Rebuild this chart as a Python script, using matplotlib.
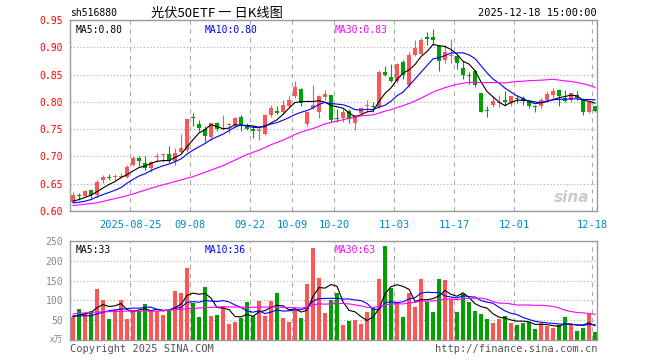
import matplotlib
matplotlib.use('Agg')
import matplotlib.pyplot as plt
import numpy as np
import pandas as pd

# trading days 2025-08-11 .. 2025-12-18 (national day holiday removed)
days = pd.bdate_range('2025-08-11', '2025-12-18')
days = days[(days < '2025-10-01') | (days > '2025-10-08')]

opens = [0.617, 0.630, 0.628, 0.638, 0.629, 0.656, 0.663, 0.662, 0.663, 0.663,
         0.685, 0.698, 0.688, 0.678, 0.699, 0.703, 0.705, 0.691, 0.709, 0.712,
         0.773, 0.759, 0.750, 0.735, 0.761, 0.750, 0.757, 0.755, 0.773, 0.756,
         0.751, 0.746, 0.741, 0.775, 0.784, 0.781, 0.793, 0.811, 0.824, 0.760,
         0.789, 0.781, 0.808, 0.813, 0.771, 0.770, 0.784, 0.762, 0.779, 0.793,
         0.791, 0.790, 0.855, 0.845, 0.838, 0.873, 0.830, 0.885, 0.888, 0.919,
         0.919, 0.902, 0.876, 0.884, 0.884, 0.862, 0.849, 0.856, 0.816, 0.785,
         0.795, 0.798, 0.804, 0.797, 0.806, 0.807, 0.801, 0.793, 0.792, 0.803,
         0.812, 0.822, 0.807, 0.803, 0.813, 0.805, 0.782, 0.792]
closes = [0.629, 0.628, 0.637, 0.629, 0.654, 0.663, 0.660, 0.664, 0.665, 0.681,
          0.697, 0.691, 0.678, 0.689, 0.700, 0.704, 0.691, 0.707, 0.716, 0.769,
          0.770, 0.753, 0.738, 0.761, 0.751, 0.751, 0.758, 0.770, 0.755, 0.750,
          0.746, 0.747, 0.775, 0.789, 0.779, 0.795, 0.804, 0.827, 0.797, 0.781,
          0.795, 0.810, 0.814, 0.767, 0.769, 0.782, 0.768, 0.775, 0.789, 0.794,
          0.790, 0.855, 0.850, 0.839, 0.870, 0.849, 0.885, 0.898, 0.914, 0.915,
          0.914, 0.874, 0.891, 0.885, 0.872, 0.850, 0.848, 0.831, 0.782, 0.784,
          0.801, 0.799, 0.800, 0.810, 0.805, 0.801, 0.793, 0.790, 0.803, 0.815,
          0.820, 0.810, 0.801, 0.816, 0.807, 0.782, 0.799, 0.784]
highs = [0.634, 0.633, 0.639, 0.639, 0.656, 0.666, 0.668, 0.668, 0.669, 0.684,
         0.700, 0.700, 0.700, 0.691, 0.707, 0.705, 0.719, 0.716, 0.741, 0.769,
         0.779, 0.767, 0.756, 0.762, 0.764, 0.775, 0.761, 0.772, 0.776, 0.761,
         0.755, 0.755, 0.775, 0.795, 0.793, 0.804, 0.811, 0.839, 0.825, 0.782,
         0.830, 0.813, 0.821, 0.813, 0.786, 0.789, 0.786, 0.776, 0.790, 0.804,
         0.799, 0.858, 0.866, 0.869, 0.871, 0.876, 0.892, 0.914, 0.917, 0.928,
         0.934, 0.903, 0.905, 0.915, 0.885, 0.874, 0.854, 0.858, 0.817, 0.793,
         0.811, 0.813, 0.820, 0.811, 0.813, 0.810, 0.804, 0.795, 0.807, 0.820,
         0.825, 0.824, 0.822, 0.817, 0.820, 0.807, 0.801, 0.793]
lows = [0.615, 0.620, 0.627, 0.623, 0.623, 0.651, 0.656, 0.657, 0.660, 0.660,
        0.682, 0.682, 0.675, 0.672, 0.690, 0.690, 0.688, 0.685, 0.706, 0.709,
        0.755, 0.746, 0.726, 0.730, 0.746, 0.749, 0.743, 0.752, 0.746, 0.749,
        0.733, 0.730, 0.740, 0.772, 0.778, 0.778, 0.790, 0.807, 0.793, 0.755,
        0.786, 0.770, 0.803, 0.764, 0.764, 0.764, 0.762, 0.749, 0.775, 0.782,
        0.782, 0.789, 0.847, 0.836, 0.835, 0.842, 0.828, 0.884, 0.887, 0.905,
        0.905, 0.856, 0.871, 0.871, 0.860, 0.842, 0.833, 0.828, 0.781, 0.773,
        0.790, 0.790, 0.793, 0.793, 0.797, 0.795, 0.789, 0.782, 0.789, 0.801,
        0.807, 0.793, 0.799, 0.799, 0.804, 0.776, 0.779, 0.781]
volumes = [59, 78, 67, 73, 129, 101, 53, 76, 101, 53,
           76, 73, 91, 76, 73, 63, 73, 124, 119, 182,
           94, 59, 134, 60, 63, 87, 40, 46, 56, 95,
           61, 98, 61, 98, 119, 56, 46, 76, 56, 141,
           233, 157, 68, 101, 119, 38, 48, 50, 40, 71,
           80, 154, 237, 132, 95, 58, 119, 83, 154, 95,
           71, 154, 152, 104, 71, 115, 96, 73, 66, 53,
           43, 53, 61, 43, 38, 43, 45, 28, 43, 35,
           30, 38, 58, 40, 23, 30, 66, 20]

# moving-average values before enough history is in the window
ma5_head = [0.618, 0.621, 0.625, 0.629]
ma10_head = [0.615, 0.616, 0.618, 0.621, 0.626, 0.630, 0.634, 0.638, 0.643]
ma30_head_idx = [0, 4, 9, 14, 20, 25]
ma30_head = [0.610, 0.615, 0.628, 0.645, 0.663, 0.683]
vma5_head = [59, 63, 66, 70]
vma10_head = [61, 61, 61, 61, 66, 70, 74, 76, 78]
vma30_head_idx = [0, 3, 9, 14, 20, 25]
vma30_head = [66, 70, 73, 73, 80, 84]

# values printed in the legends
price_ma_text = ['MA5:0.80', 'MA10:0.80', 'MA30:0.83']
vol_ma_text = ['MA5:33', 'MA10:36', 'MA30:63']

tick_dates = ['2025-08-25', '2025-09-08', '2025-09-22', '2025-10-09', '2025-10-20',
              '2025-11-03', '2025-11-17', '2025-12-01', '2025-12-18']
tick_labels = ['2025-08-25', '09-08', '09-22', '10-09', '10-20',
               '11-03', '11-17', '12-01', '12-18']

RED = '#ff5555'
GREEN = '#00a000'
FRAME = '#999999'
MONO = 'DejaVu Sans Mono'
FS = 7
MA_COLS = ['black', 'blue', '#ff00ff']


def ma_line(values, n, head_idx, head_vals):
    s = pd.Series(values, dtype=float).rolling(n).mean()
    xs = list(head_idx) + list(range(n - 1, len(values)))
    ys = list(head_vals) + list(s.iloc[n - 1:])
    return xs, ys


o = np.array(opens)
c = np.array(closes)
h = np.array(highs)
l = np.array(lows)
v = np.array(volumes)
x = np.arange(len(c))
up = c >= o
cols = np.where(up, RED, GREEN)

fig = plt.figure(figsize=(6.6, 3.6), dpi=100)
ax = fig.add_axes([70 / 660, 1 - 211 / 360, 527 / 660, 191 / 360])
axv = fig.add_axes([70 / 660, 1 - 340 / 360, 527 / 660, 99 / 360])

xmin, xmax = -0.5, 87.33
tick_idx = [days.get_loc(pd.Timestamp(d)) for d in tick_dates]

for a in (ax, axv):
    a.set_xlim(xmin, xmax)
    for s in a.spines.values():
        s.set_color(FRAME)
        s.set_linewidth(1)
    for t in tick_idx:
        a.axvline(t - 0.5, color='#aaaaaa', lw=0.8, ls=(0, (4, 4)), zorder=0)
    a.set_xticks([])

# price panel
ax.set_ylim(0.60, 0.95)
pt = [0.60, 0.65, 0.70, 0.75, 0.80, 0.85, 0.90, 0.95]
for y in pt[1:-1]:
    ax.axhline(y, color='#aaaaaa', lw=0.8, ls=(0, (1, 2)), zorder=0)
ax.set_yticks(pt)
ax.set_yticklabels(['%.2f' % y for y in pt], color='red', family=MONO, fontsize=FS)
ax.tick_params(axis='y', length=0, pad=5)

ax.vlines(x, l, h, colors=cols, lw=0.8, zorder=2)
body = np.maximum(np.abs(c - o), 0.0018)
ax.bar(x, body, bottom=np.minimum(o, c), width=0.78, color=cols, lw=0, zorder=3)

for n, hi, hv, col in [(5, None, ma5_head, MA_COLS[0]), (10, None, ma10_head, MA_COLS[1]),
                       (30, ma30_head_idx, ma30_head, MA_COLS[2])]:
    idx = hi if hi is not None else range(len(hv))
    xs, ys = ma_line(c, n, idx, hv)
    ax.plot(xs, ys, color=col, lw=0.8, zorder=4)

for xpos, txt, col in zip([0.01, 0.255, 0.503], price_ma_text, MA_COLS):
    ax.text(xpos, 0.975, txt, transform=ax.transAxes, family=MONO, fontsize=FS,
            color=col, va='top', zorder=5)
ax.text(0.985, 0.03, 'sina', transform=ax.transAxes, fontsize=11, fontweight='bold',
        style='italic', color='#cccccc', ha='right', va='bottom', zorder=1)

for t, lab in zip(tick_idx, tick_labels):
    ax.text(t - 0.5, -0.045, lab, transform=ax.get_xaxis_transform(), ha='center', va='top',
            family=MONO, fontsize=FS + 0.5, color='#0088cc')

# volume panel
axv.set_ylim(0, 250)
for y in [50, 100, 150, 200]:
    axv.axhline(y, color='#aaaaaa', lw=0.8, ls=(0, (1, 2)), zorder=0)
axv.set_yticks([0, 50, 100, 150, 200, 250])
axv.set_yticklabels(['', '50', '100', '150', '200', '250'], color='#888888', family=MONO,
                    fontsize=FS)
axv.tick_params(axis='y', length=0, pad=5)
axv.text(-0.012, 0.0, 'x万', transform=axv.transAxes, ha='right', va='center',
         fontsize=6.5, color='#888888', style='italic',
         family=['Noto Sans CJK SC', 'DejaVu Sans'])
axv.bar(x, v, width=0.82, color=cols, lw=0, zorder=2)
for n, hi, hv, col in [(5, None, vma5_head, MA_COLS[0]), (10, None, vma10_head, MA_COLS[1]),
                       (30, vma30_head_idx, vma30_head, MA_COLS[2])]:
    idx = hi if hi is not None else range(len(hv))
    xs, ys = ma_line(v, n, idx, hv)
    axv.plot(xs, ys, color=col, lw=0.8, zorder=4)

for xpos, txt, col in zip([0.01, 0.255, 0.503], vol_ma_text, MA_COLS):
    axv.text(xpos, 0.955, txt, transform=axv.transAxes, family=MONO, fontsize=FS,
             color=col, va='top', zorder=5)

# header / footer
fig.text(70 / 660, 1 - 13 / 360, 'sh516880', family=MONO, fontsize=FS, va='center')
fig.text(217 / 660, 1 - 13 / 360, '光伏50ETF 一 日K线图', fontsize=9.5, ha='center',
         va='center', family=['Noto Sans CJK SC', 'DejaVu Sans'])
fig.text(597 / 660, 1 - 13 / 360, '2025-12-18 15:00:00', family=MONO, fontsize=FS + 0.5,
         ha='right', va='center')
fig.text(70 / 660, 1 - 349 / 360, 'Copyright 2025 SINA.COM', family=MONO, fontsize=FS + 0.5,
         color='#555555', va='center')
fig.text(597 / 660, 1 - 349 / 360, 'http://finance.sina.com.cn', family=MONO,
         fontsize=FS + 0.5, color='#555555', ha='right', va='center')

fig.savefig('out.png', dpi=100)
